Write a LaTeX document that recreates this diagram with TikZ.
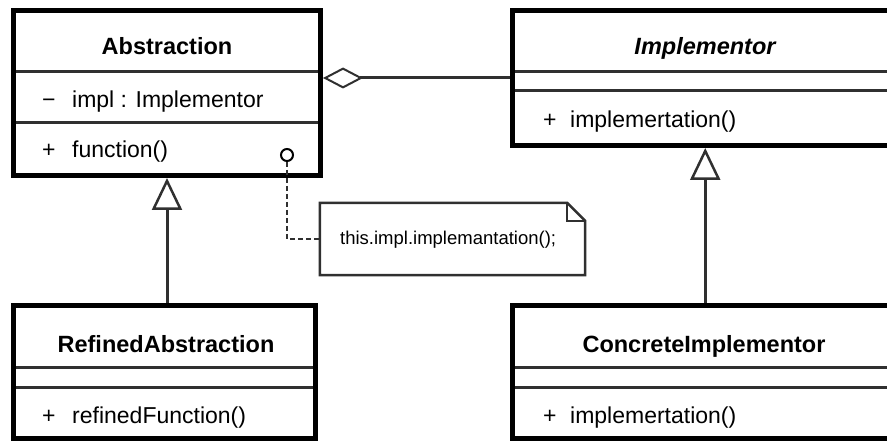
\documentclass[tikz,border=0pt]{standalone}
\usepackage{fontspec}
\setmainfont{Liberation Sans}
\usetikzlibrary{arrows.meta}
\definecolor{edge}{HTML}{303030}
\begin{document}
\begin{tikzpicture}[x=1pt,y=-1pt,
  classbox/.style={draw=black, line width=5pt, inner sep=0pt},
  divider/.style={draw=edge, line width=3pt},
  title/.style={font=\fontsize{23.5}{28}\selectfont\bfseries, inner sep=0pt, anchor=base},
  member/.style={font=\fontsize{23}{28}\selectfont, inner sep=0pt, anchor=base west},
  conn/.style={draw=edge, line width=3pt},
  realize/.style={conn, -{Triangle[open, length=32pt, width=30pt, line width=2.5pt]}},
  notebox/.style={draw=none, inner sep=0pt, minimum width=265pt, minimum height=72pt},
  notetext/.style={font=\fontsize{18.5}{22}\selectfont, inner sep=0pt, anchor=base west}
]
\path[use as bounding box] (0,0) rectangle (887,441);
\fill[white] (0,0) rectangle (887,441);

% class boxes
\node[classbox, minimum width=307pt, minimum height=165pt] (abs) at (167,93) {};
\node[classbox, minimum width=385.5pt, minimum height=135pt] (impl) at (705.25,78) {};
\node[classbox, minimum width=302pt, minimum height=133pt] (ref) at (164.5,372) {};
\node[classbox, minimum width=385.5pt, minimum height=133pt] (conc) at (705.25,372) {};

% compartment separators
\draw[divider] (16,72) -- (318,72);
\draw[divider] (16,123) -- (318,123);
\draw[divider] (515,72) -- (887,72);
\draw[divider] (515,91) -- (887,91);
\draw[divider] (16,367) -- (313,367);
\draw[divider] (16,387) -- (313,387);
\draw[divider] (515,367) -- (887,367);
\draw[divider] (515,387) -- (887,387);

% class names
\node[title] (absname) at (167,55) {Abstraction};
\node[title] (implname) at (705,55) {\itshape Implementor};
\node[title] (refname) at (166,352) {RefinedAbstraction};
\node[title] (concname) at (704,352) {ConcreteImplementor};

% members
\node[member] (absattr) at (42,108) {\makebox[30pt][l]{−}impl : Implementor};
\node[member] (absop) at (42,158) {\makebox[30pt][l]{+}function()};
\node[member] (implop) at (543,128) {\makebox[27pt][l]{+}implemertation()};
\node[member] (refop) at (42,423) {\makebox[30pt][l]{+}refinedFunction()};
\node[member] (concop) at (543,423) {\makebox[27pt][l]{+}implemertation()};

% aggregation
\draw[conn, {Diamond[open, length=40pt, width=21pt, line width=2pt]}-] (abs.east |- impl.west) -- (impl.west);

% generalizations
\draw[realize] (ref.north -| abs.south) -- (abs.south);
\draw[realize] (conc.north) -- (impl.south);

% note attached to function()
\node[circle, draw=black, line width=2pt, minimum size=12pt, inner sep=0pt] (knob) at (287,155) {};
\node[notebox] (note) at (452.5,239) {};
\draw[edge, line width=2.5pt, line join=miter]
  (note.north west) -- ([xshift=-18pt]note.north east) -- ([yshift=-18pt]note.north east)
  -- (note.south east) -- (note.south west) -- cycle;
\draw[edge, line width=2pt] ([xshift=-18pt]note.north east) |- ([yshift=-18pt]note.north east);
\node[notetext] (notetxt) at (340,244) {this.impl.implemantation();};
\draw[edge, line width=2pt, dash pattern=on 5pt off 3pt] (knob.south) |- (note.west);
\end{tikzpicture}
\end{document}
